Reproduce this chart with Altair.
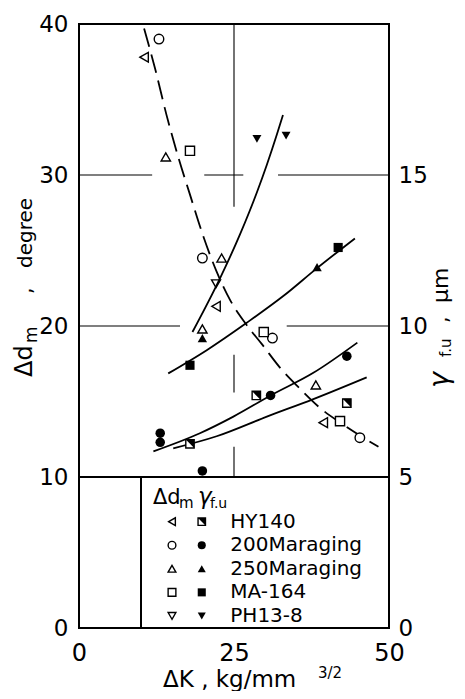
import altair as alt
import pandas as pd

# ---------------- data ----------------
materials = ["HY140", "200Maraging", "250Maraging", "MA-164", "PH13-8"]
open_shapes = ["triangle-left", "circle", "triangle-up", "square", "triangle-down"]
marker_sizes = [95, 80, 95, 70, 100]

# Δd_m (degree), open symbols, left axis
open_material = ["HY140", "HY140", "HY140",
                 "200Maraging", "200Maraging", "200Maraging", "200Maraging",
                 "250Maraging", "250Maraging", "250Maraging", "250Maraging",
                 "MA-164", "MA-164", "MA-164", "PH13-8"]
open_dk = [10.5, 22.1, 39.4, 12.9, 19.9, 31.2, 45.3, 14.0, 23.0, 19.9, 38.2, 17.9, 29.8, 42.1, 22.1]
open_dd = [37.8, 21.3, 13.6, 39.0, 24.5, 19.2, 12.6, 31.2, 24.5, 19.8, 16.1, 31.6, 19.6, 13.7, 22.8]

# γ f.u (μm), filled symbols, right axis
fill_material = ["200Maraging", "200Maraging", "200Maraging", "200Maraging", "200Maraging",
                 "250Maraging", "250Maraging", "MA-164", "MA-164", "PH13-8", "PH13-8"]
fill_dk = [30.9, 43.2, 13.1, 13.1, 19.9, 38.4, 19.9, 41.8, 17.9, 28.7, 33.4]
fill_g = [7.7, 9.0, 6.45, 6.15, 5.2, 11.95, 9.6, 12.6, 8.7, 16.2, 16.3]
# HY140 γ f.u (half-filled squares)
hy_dk = [28.6, 43.2, 17.9]
hy_g = [7.7, 7.45, 6.1]

# dashed trend of Δd_m (degree)
dash_dk = [10.5, 12.3, 14.1, 16.0, 17.9, 20.0, 22.2, 24.4, 26.8, 29.5, 32.5, 35.5, 38.8, 42.5, 48.3]
dash_dd = [39.7, 37.0, 34.0, 31.2, 28.7, 26.0, 23.6, 21.7, 20.2, 18.8, 17.2, 15.9, 14.6, 13.5, 12.0]

# solid trends of γ f.u (μm)
c1_dk = [18.3, 22.7, 26.0, 28.7, 30.3, 31.9, 32.9]
c1_g = [9.8, 11.56, 13.05, 14.43, 15.34, 16.33, 16.99]
c2_dk = [14.4, 20.6, 27.0, 33.0, 38.3, 44.5]
c2_g = [8.43, 9.2, 10.1, 11.0, 11.9, 12.9]
c3_dk = [12.0, 19.5, 24.9, 30.9, 37.8, 44.9]
c3_g = [5.85, 6.45, 7.0, 7.7, 8.45, 9.45]
c4_dk = [15.2, 22.2, 30.3, 37.8, 46.4]
c4_g = [5.95, 6.35, 7.0, 7.58, 8.3]

# broken grid lines
gh_y = [30, 30, 30, 20, 20]
gh_x1 = [0, 20.2, 32.1, 0, 33.5]
gh_x2 = [11.8, 26.5, 50, 16.3, 50]
gv_x = [25, 25, 25]
gv_y1 = [27.9, 15.6, 10.0]
gv_y2 = [40, 18.1, 12.0]

x_ticks = [0, 25, 50]
yl_ticks = [0, 10, 20, 30, 40]
yr_ticks = [0, 5, 10, 15]

# ---------------- layout ----------------
FONT = "DejaVu Sans"
W, H = 310, 604
OX, OY = 79, 24  # plot origin on the page

xs = alt.Scale(domain=[0, 50], nice=False, zero=False)
ysL = alt.Scale(domain=[0, 40], nice=False, zero=False)
ysR = alt.Scale(domain=[0, 20], nice=False, zero=False)

common_axis = dict(ticks=False, tickSize=0, domain=False, grid=False, labelFont=FONT,
                   labelColor="black", labelFlush=False, title=None, labelOverlap=False)
x_axis = alt.Axis(values=x_ticks, labelFontSize=24, labelPadding=13, orient="bottom", **common_axis)
yl_axis = alt.Axis(values=yl_ticks, labelFontSize=23, labelPadding=11, orient="left", **common_axis)
yr_axis = alt.Axis(values=yr_ticks, labelFontSize=23, labelPadding=9, orient="right", **common_axis)


def X(f):
    return alt.X(f, scale=xs, axis=x_axis)


def YL(f):
    return alt.Y(f, scale=ysL, axis=yl_axis)


def YR(f):
    return alt.Y(f, scale=ysR, axis=yr_axis)


shape_enc = alt.Shape("material:N", scale=alt.Scale(domain=materials, range=open_shapes), legend=None)
size_enc = alt.Size("material:N", scale=alt.Scale(domain=materials, range=marker_sizes), legend=None)
HALF = "M-1,-1L1,-1L1,1Z"

_txt_id = [0]


def txt(s, x, y, size, angle=0, style="normal", align="left", baseline="alphabetic"):
    _txt_id[0] += 1
    d = pd.DataFrame({"t": [s], "k": [_txt_id[0]]})
    return alt.Chart(d).mark_text(
        fontSize=size, font=FONT, fontStyle=style,
        align=align, baseline=baseline, color="black"
    ).encode(x=alt.value(x - OX), y=alt.value(y - OY), text="t:N", angle=alt.value(angle))


df_gh = pd.DataFrame({"y": gh_y, "x1": gh_x1, "x2": gh_x2})
df_gv = pd.DataFrame({"x": gv_x, "y1": gv_y1, "y2": gv_y2})
df_bh = pd.DataFrame({"y": [10], "x1": [0], "x2": [50]})
df_bv = pd.DataFrame({"x": [10], "y1": [0], "y2": [10]})
df_open = pd.DataFrame({"material": open_material, "dk": open_dk, "dd": open_dd})
df_fill = pd.DataFrame({"material": fill_material, "dk": fill_dk, "g": fill_g})
df_hy = pd.DataFrame({"dk": hy_dk, "g": hy_g})
df_dash = pd.DataFrame({"dk": dash_dk, "dd": dash_dd})
df_curves = pd.concat([
    pd.DataFrame({"curve": "c1", "dk": c1_dk, "g": c1_g}),
    pd.DataFrame({"curve": "c2", "dk": c2_dk, "g": c2_g}),
    pd.DataFrame({"curve": "c3", "dk": c3_dk, "g": c3_g}),
    pd.DataFrame({"curve": "c4", "dk": c4_dk, "g": c4_g}),
])

# legend rows (in axis units inside the box)
leg_y = [7.04 - i * 1.56 for i in range(len(materials))]
df_leg = pd.DataFrame({"material": materials, "y": leg_y,
                       "x1": [15.0] * 5, "x2": [19.8] * 5, "xt": [24.4] * 5})
df_leg_f = df_leg[df_leg.material != "HY140"]
df_leg_h = df_leg[df_leg.material == "HY140"]

grid_h = alt.Chart(df_gh).mark_rule(color="black", strokeWidth=1.1).encode(
    x=X("x1:Q"), x2="x2:Q", y=YL("y:Q"))
grid_v = alt.Chart(df_gv).mark_rule(color="black", strokeWidth=1.1).encode(
    x=X("x:Q"), y=YL("y1:Q"), y2="y2:Q")
box_h = alt.Chart(df_bh).mark_rule(color="black", strokeWidth=2).encode(
    x=X("x1:Q"), x2="x2:Q", y=YL("y:Q"))
box_v = alt.Chart(df_bv).mark_rule(color="black", strokeWidth=2).encode(
    x=X("x:Q"), y=YL("y1:Q"), y2="y2:Q")
dash = alt.Chart(df_dash).mark_line(color="black", strokeWidth=1.8, strokeDash=[19, 8],
                                    interpolate="monotone").encode(x=X("dk:Q"), y=YL("dd:Q"))
pts_open = alt.Chart(df_open).mark_point(filled=True, fill="white", stroke="black", strokeWidth=1.4,
                                         opacity=1).encode(
    x=X("dk:Q"), y=YL("dd:Q"), shape=shape_enc, size=size_enc)

leg_open = alt.Chart(df_leg).mark_point(filled=True, fill="white", stroke="black", strokeWidth=1.4,
                                        size=60, opacity=1).encode(
    x=X("x1:Q"), y=YL("y:Q"), shape=shape_enc)
leg_fill = alt.Chart(df_leg_f).mark_point(filled=True, color="black", size=65, opacity=1).encode(
    x=X("x2:Q"), y=YL("y:Q"), shape=shape_enc)
leg_h1 = alt.Chart(df_leg_h).mark_point(shape="square", filled=True, fill="white", stroke="black",
                                        strokeWidth=1.4, size=55, opacity=1).encode(
    x=X("x2:Q"), y=YL("y:Q"))
leg_h2 = alt.Chart(df_leg_h).mark_point(shape=HALF, filled=True, color="black", size=55, opacity=1).encode(
    x=X("x2:Q"), y=YL("y:Q"))
leg_txt = alt.Chart(df_leg).mark_text(align="left", baseline="middle", font=FONT, fontSize=20,
                                      color="black").encode(
    x=X("xt:Q"), y=YL("y:Q"), text="material:N")

titles = [
    # legend header
    txt("Δd", 153, 504, 21),
    txt("m", 179, 508, 15),
    txt("γ", 198, 504, 23, style="italic"),
    txt("f.u", 210, 508, 14),
    # left axis title (reads bottom to top)
    txt("Δd", 32, 377, 24, angle=270),
    txt("m", 37, 343, 17, angle=270),
    txt(",", 32, 294, 21, angle=270),
    txt("degree", 32, 268, 20, angle=270),
    # right axis title (reads bottom to top)
    txt("γ", 448, 388, 27, angle=270, style="italic"),
    txt("f.u", 451, 357, 15, angle=270),
    txt(",", 448, 323, 21, angle=270),
    txt("μm", 448, 303, 22, angle=270),
    # bottom axis title
    txt("ΔK , kg/mm", 163, 687, 23),
    txt("3/2", 318, 678, 15),
]

left = alt.layer(grid_h, grid_v, box_h, box_v, dash, pts_open,
                 leg_open, leg_fill, leg_h1, leg_h2, leg_txt, *titles)

curves = alt.Chart(df_curves).mark_line(color="black", strokeWidth=1.8, interpolate="monotone").encode(
    x=X("dk:Q"), y=YR("g:Q"), detail="curve:N")
pts_fill = alt.Chart(df_fill).mark_point(filled=True, color="black", opacity=1).encode(
    x=X("dk:Q"), y=YR("g:Q"), shape=shape_enc, size=size_enc)
hy1 = alt.Chart(df_hy).mark_point(shape="square", filled=True, fill="white", stroke="black",
                                  strokeWidth=1.4, size=70, opacity=1).encode(x=X("dk:Q"), y=YR("g:Q"))
hy2 = alt.Chart(df_hy).mark_point(shape=HALF, filled=True, color="black", size=70, opacity=1).encode(
    x=X("dk:Q"), y=YR("g:Q"))

right = alt.layer(curves, pts_fill, hy1, hy2)

chart = alt.layer(left, right).resolve_scale(y="independent").properties(
    width=W, height=H,
    padding={"left": 71, "top": 16, "right": 68, "bottom": 63},
    autosize=alt.AutoSizeParams(type="none"),
    background="white",
).configure_view(stroke="black", strokeWidth=2)

chart.save("out.html", embed_options={"renderer": "svg", "actions": False})
